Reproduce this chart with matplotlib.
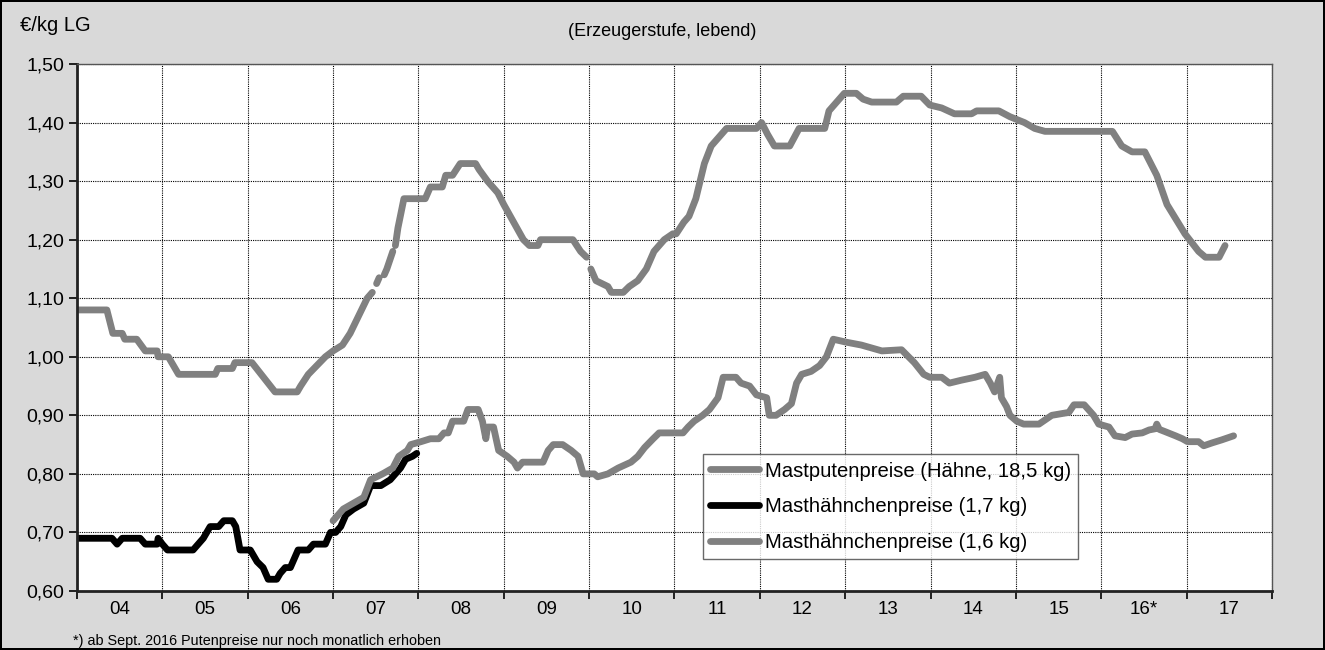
import matplotlib
matplotlib.use("Agg")
import matplotlib.pyplot as plt
import numpy as np
from matplotlib.ticker import FixedLocator, FuncFormatter, NullFormatter

plt.rcParams["font.family"] = ["Liberation Sans", "DejaVu Sans"]

# Mastputenpreise (Hähne, 18,5 kg), €/kg LG; nan = keine Notierung
puten_t = [2004.00, 2004.35, 2004.42, 2004.53, 2004.56, 2004.70, 2004.80, 2004.94,
           2004.95, 2005.07, 2005.19, 2005.62, 2005.65, 2005.82, 2005.85, 2006.05,
           2006.32, 2006.58, 2006.62, 2006.71, 2006.91, 2007.00, 2007.11, 2007.20,
           2007.30, 2007.40, 2007.46, np.nan, 2007.51, 2007.54, np.nan, 2007.60,
           2007.63, 2007.70, np.nan, 2007.73, 2007.76, 2007.83, 2008.00, 2008.08,
           2008.14, 2008.28, 2008.32, 2008.40, 2008.49, 2008.67, 2008.71, 2008.81,
           2008.93, 2009.00, 2009.23, 2009.30, 2009.40, 2009.43, 2009.81, 2009.90,
           2009.97, np.nan, 2010.02, 2010.08, 2010.22, 2010.26, 2010.40, 2010.47,
           2010.57, 2010.67, 2010.76, 2010.88, 2010.98, 2011.02, 2011.11, 2011.17,
           2011.25, 2011.35, 2011.43, 2011.55, 2011.61, 2011.96, 2012.02, 2012.09,
           2012.17, 2012.35, 2012.46, 2012.76, 2012.81, 2012.87, 2012.99, 2013.13,
           2013.21, 2013.31, 2013.60, 2013.68, 2013.89, 2013.99, 2014.13, 2014.28,
           2014.48, 2014.54, 2014.80, 2014.93, 2015.10, 2015.22, 2015.34, 2016.13,
           2016.24, 2016.36, 2016.51, 2016.65, 2016.77, 2016.98, 2017.14, 2017.22,
           2017.38, 2017.45]
puten_v = [1.08, 1.08, 1.04, 1.04, 1.03, 1.03, 1.01, 1.01,
           1.00, 1.00, 0.97, 0.97, 0.98, 0.98, 0.99, 0.99,
           0.94, 0.94, 0.95, 0.97, 1.00, 1.01, 1.02, 1.04,
           1.07, 1.10, 1.11, np.nan, 1.125, 1.135, np.nan, 1.14,
           1.15, 1.18, np.nan, 1.19, 1.22, 1.27, 1.27, 1.27,
           1.29, 1.29, 1.31, 1.31, 1.33, 1.33, 1.32, 1.30,
           1.28, 1.26, 1.20, 1.19, 1.19, 1.20, 1.20, 1.18,
           1.17, np.nan, 1.15, 1.13, 1.12, 1.11, 1.11, 1.12,
           1.13, 1.15, 1.18, 1.20, 1.21, 1.21, 1.23, 1.24,
           1.27, 1.33, 1.36, 1.38, 1.39, 1.39, 1.40, 1.38,
           1.36, 1.36, 1.39, 1.39, 1.42, 1.43, 1.45, 1.45,
           1.44, 1.435, 1.435, 1.445, 1.445, 1.43, 1.425, 1.415,
           1.415, 1.42, 1.42, 1.41, 1.40, 1.39, 1.385, 1.385,
           1.36, 1.35, 1.35, 1.31, 1.26, 1.21, 1.18, 1.17,
           1.17, 1.19]

# Masthähnchenpreise (1,7 kg), bis Ende 2007
h17_t = [2004.00, 2004.41, 2004.47, 2004.53, 2004.74, 2004.80, 2004.94, 2004.95,
         2005.00, 2005.06, 2005.36, 2005.42, 2005.48, 2005.56, 2005.66, 2005.72,
         2005.82, 2005.86, 2005.91, 2006.03, 2006.11, 2006.18, 2006.24, 2006.34,
         2006.38, 2006.44, 2006.50, 2006.56, 2006.59, 2006.71, 2006.77, 2006.91,
         2006.97, 2007.03, 2007.09, 2007.15, 2007.24, 2007.36, 2007.44, 2007.56,
         2007.67, 2007.79, 2007.85, 2007.93, 2007.98]
h17_v = [0.69, 0.69, 0.68, 0.69, 0.69, 0.68, 0.68, 0.69,
         0.68, 0.67, 0.67, 0.68, 0.69, 0.71, 0.71, 0.72,
         0.72, 0.71, 0.67, 0.67, 0.65, 0.64, 0.62, 0.62,
         0.63, 0.64, 0.64, 0.66, 0.67, 0.67, 0.68, 0.68,
         0.70, 0.70, 0.71, 0.73, 0.74, 0.75, 0.78, 0.78,
         0.79, 0.81, 0.825, 0.83, 0.835]

# Masthähnchenpreise (1,6 kg), ab 2007
h16_t = [2007.00, 2007.12, 2007.24, 2007.36, 2007.44, 2007.58, 2007.70, 2007.77,
         2007.87, 2007.91, 2008.03, 2008.14, 2008.24, 2008.30, 2008.35, 2008.40,
         2008.53, 2008.58, 2008.70, 2008.75, 2008.79, 2008.81, 2008.88, 2008.94,
         2009.04, 2009.12, 2009.16, 2009.22, 2009.46, 2009.52, 2009.58, 2009.69,
         2009.79, 2009.87, 2009.93, 2010.06, 2010.10, 2010.22, 2010.34, 2010.49,
         2010.57, 2010.65, 2010.75, 2010.82, 2011.10, 2011.16, 2011.23, 2011.33,
         2011.41, 2011.51, 2011.57, 2011.72, 2011.78, 2011.88, 2011.96, 2012.08,
         2012.11, 2012.19, 2012.29, 2012.37, 2012.43, 2012.49, 2012.60, 2012.70,
         2012.78, 2012.86, 2013.01, 2013.19, 2013.31, 2013.43, 2013.66, 2013.81,
         2013.92, 2013.99, 2014.13, 2014.22, 2014.36, 2014.52, 2014.64, 2014.70,
         2014.75, 2014.81, 2014.83, 2014.89, 2014.93, 2015.01, 2015.09, 2015.27,
         2015.32, 2015.42, 2015.62, 2015.68, 2015.80, 2015.91, 2015.97, 2016.09,
         2016.16, 2016.28, 2016.36, 2016.48, 2016.56, 2016.63, 2016.65, 2016.68,
         2016.75, 2016.87, 2016.95, 2017.01, 2017.14, 2017.20, 2017.30, 2017.41,
         2017.55]
h16_v = [0.72, 0.74, 0.75, 0.76, 0.79, 0.80, 0.81, 0.83,
         0.84, 0.85, 0.855, 0.86, 0.86, 0.87, 0.87, 0.89,
         0.89, 0.91, 0.91, 0.89, 0.86, 0.88, 0.88, 0.84,
         0.83, 0.82, 0.81, 0.82, 0.82, 0.84, 0.85, 0.85,
         0.84, 0.83, 0.80, 0.80, 0.795, 0.80, 0.81, 0.82,
         0.83, 0.845, 0.86, 0.87, 0.87, 0.88, 0.89, 0.90,
         0.91, 0.93, 0.965, 0.965, 0.955, 0.95, 0.935, 0.93,
         0.90, 0.90, 0.91, 0.92, 0.955, 0.97, 0.975, 0.985,
         1.00, 1.03, 1.025, 1.02, 1.015, 1.01, 1.012, 0.99,
         0.97, 0.965, 0.965, 0.955, 0.96, 0.965, 0.97, 0.955,
         0.94, 0.965, 0.93, 0.915, 0.90, 0.89, 0.885, 0.885,
         0.89, 0.90, 0.905, 0.918, 0.918, 0.90, 0.885, 0.88,
         0.865, 0.862, 0.868, 0.870, 0.875, 0.877, 0.885, 0.876,
         0.872, 0.865, 0.860, 0.855, 0.855, 0.848, 0.853, 0.858,
         0.865]

year_labels = ["04", "05", "06", "07", "08", "09", "10", "11", "12", "13",
               "14", "15", "16*", "17"]
first_year = 2004

GREY = "#808080"
FS = 14

fig = plt.figure(figsize=(13.25, 6.5), dpi=100, facecolor="#D9D9D9",
                 edgecolor="black", linewidth=1.5)
ax = fig.add_axes([0.0581, 0.0908, 0.9019, 0.8107])
ax.set_facecolor("white")

line_kw = dict(linewidth=4.9, solid_capstyle="round", solid_joinstyle="round")
ax.plot(puten_t, puten_v, color=GREY, label="Mastputenpreise (Hähne, 18,5 kg)", **line_kw)
ax.plot(h17_t, h17_v, color="black", label="Masthähnchenpreise (1,7 kg)", **line_kw)
ax.plot(h16_t, h16_v, color=GREY, label="Masthähnchenpreise (1,6 kg)", **line_kw)

n_years = len(year_labels)
ax.set_xlim(first_year, first_year + n_years)
ax.set_ylim(0.60, 1.50)

# year boundaries carry the ticks, labels sit in the middle of each year
ax.xaxis.set_major_locator(FixedLocator(np.arange(first_year, first_year + n_years + 1)))
ax.xaxis.set_major_formatter(NullFormatter())
ax.xaxis.set_minor_locator(FixedLocator(np.arange(n_years) + first_year + 0.5))
ax.xaxis.set_minor_formatter(FuncFormatter(lambda v, p: year_labels[int(v - first_year)]))
ax.tick_params(axis="x", which="major", length=6, width=1.2, direction="out")
ax.tick_params(axis="x", which="minor", length=0, pad=7, labelsize=13.5)

ax.set_yticks(np.arange(0.60, 1.501, 0.10))
ax.yaxis.set_major_formatter(FuncFormatter(lambda v, p: f"{v:.2f}".replace(".", ",")))
ax.tick_params(axis="y", length=6, width=1.2, direction="out", labelsize=FS, pad=3)

ax.grid(True, which="major", color="black", linestyle=(0, (1, 1)), linewidth=0.8)
ax.set_axisbelow(True)

for side in ("left", "bottom"):
    ax.spines[side].set_linewidth(2.0)
    ax.spines[side].set_color("#222222")
for side in ("top", "right"):
    ax.spines[side].set_linewidth(1.0)
    ax.spines[side].set_color("#555555")

leg = ax.legend(loc="upper left", bbox_to_anchor=(0.524, 0.259), fontsize=14.6,
                frameon=True, fancybox=False, edgecolor="#444444",
                handlelength=2.4, handletextpad=0.3, borderpad=0.35,
                labelspacing=0.82, borderaxespad=0)
leg.get_frame().set_linewidth(1.0)

fig.text(0.015, 0.9615, "€/kg LG", fontsize=14.5, ha="left", va="center")
fig.text(0.5, 0.951, "(Erzeugerstufe, lebend)", fontsize=13, ha="center", va="center")
fig.text(0.055, 0.014, "*) ab Sept. 2016 Putenpreise nur noch monatlich erhoben",
         fontsize=10.4, ha="left", va="center")

fig.savefig("out.png", dpi=100, facecolor=fig.get_facecolor(), edgecolor=fig.get_edgecolor())
